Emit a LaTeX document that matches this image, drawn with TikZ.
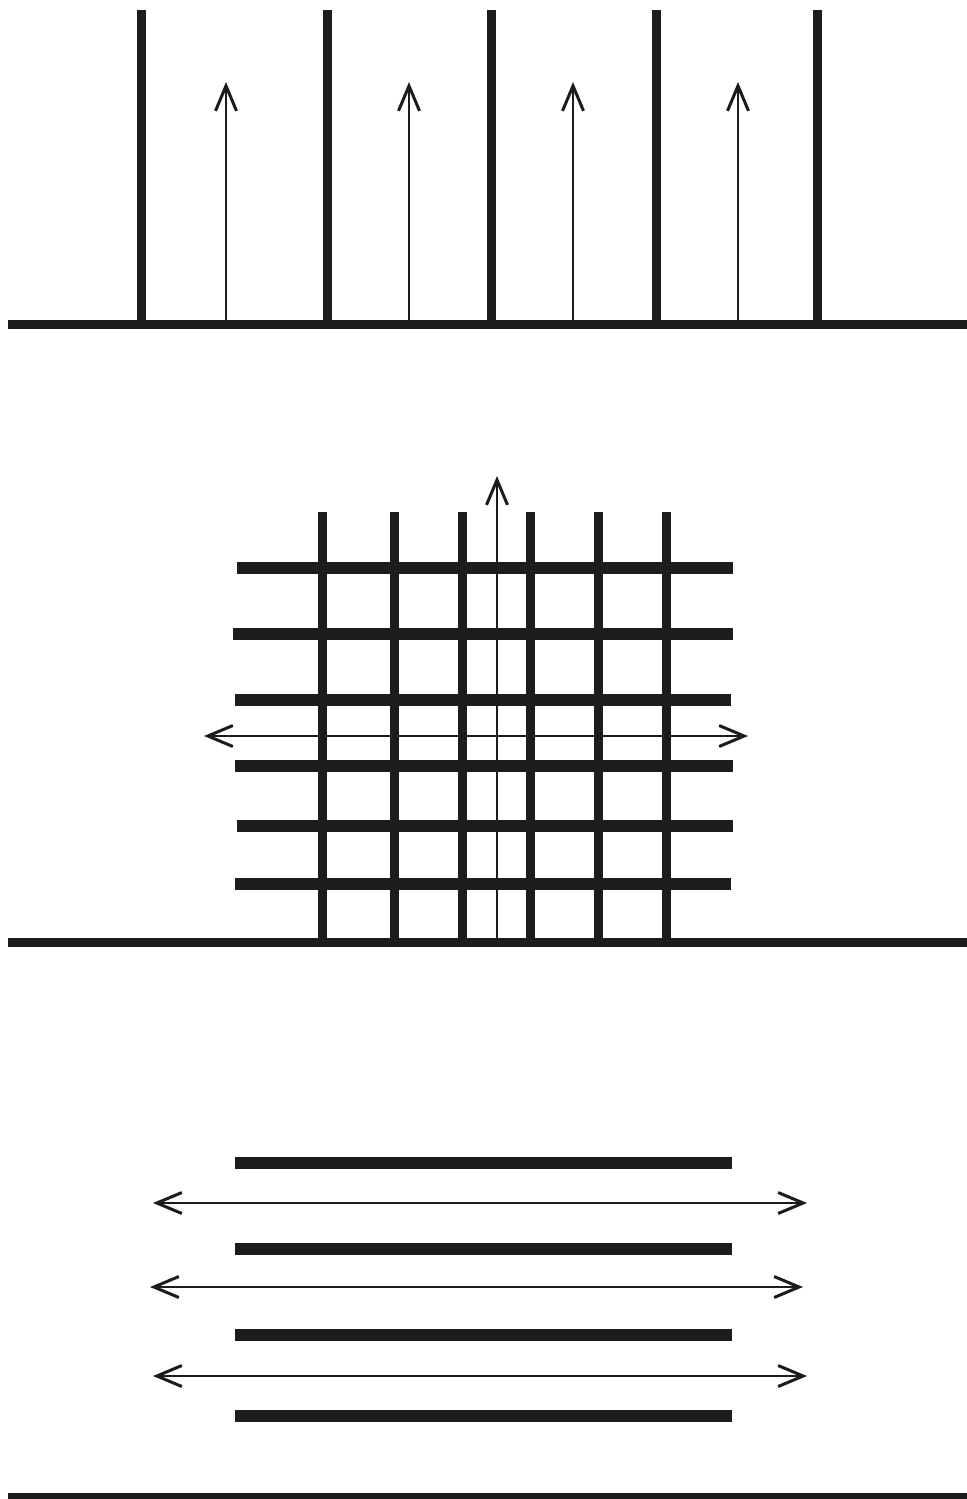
\documentclass[tikz,border=0pt]{standalone}
\usetikzlibrary{arrows.meta}
\definecolor{ink}{HTML}{1C1C1C}

\begin{document}
\begin{tikzpicture}[
    x=0.1mm, y=-0.1mm,
    ground/.style={line width=0.9mm, ink},
    fibre/.style={line width=0.9mm, ink},
    layer/.style={line width=1.15mm, ink},
    flow/.style={line width=0.2mm, ink, -{Straight Barb[length=2.5mm, width=2.1mm, line width=0.3mm]}},
    flowboth/.style={line width=0.2mm, ink, {Straight Barb[length=2.5mm, width=2.1mm, line width=0.3mm]}-{Straight Barb[length=2.5mm, width=2.1mm, line width=0.3mm]}}
]
\useasboundingbox (0,0) rectangle (967,1499);

% Top panel: parallel walls, flow along them
\draw[ground] (8,324) -- (967,324);
\foreach \x in {141,327,491,656,817}
  \draw[fibre] (\x,10) -- (\x,320);
\foreach \x in {226,409,573,738}
  \draw[flow] (\x,320) -- (\x,82);

% Middle panel: crossed grid, flow in both directions
\draw[ground] (8,942) -- (967,942);
\foreach \x in {322,394,462,530,598,666}
  \draw[fibre] (\x,512) -- (\x,938);
\foreach \y/\a/\b in {568/237/733, 634/233/733, 700/235/731, 766/235/733, 826/237/733, 884/235/731}
  \draw[layer] (\a,\y) -- (\b,\y);
\draw[flow] (497,938) -- (497,476);
\draw[flowboth] (204,736) -- (748,736);

% Bottom panel: stacked layers, flow in the plane
\foreach \y in {1163,1249,1335,1416}
  \draw[layer] (235,\y) -- (732,\y);
\foreach \y/\a/\b in {1203/153/807, 1287/150/803, 1376/153/807}
  \draw[flowboth] (\a,\y) -- (\b,\y);
\draw[ground] (8,1497) -- (967,1497);

\end{tikzpicture}
\end{document}
